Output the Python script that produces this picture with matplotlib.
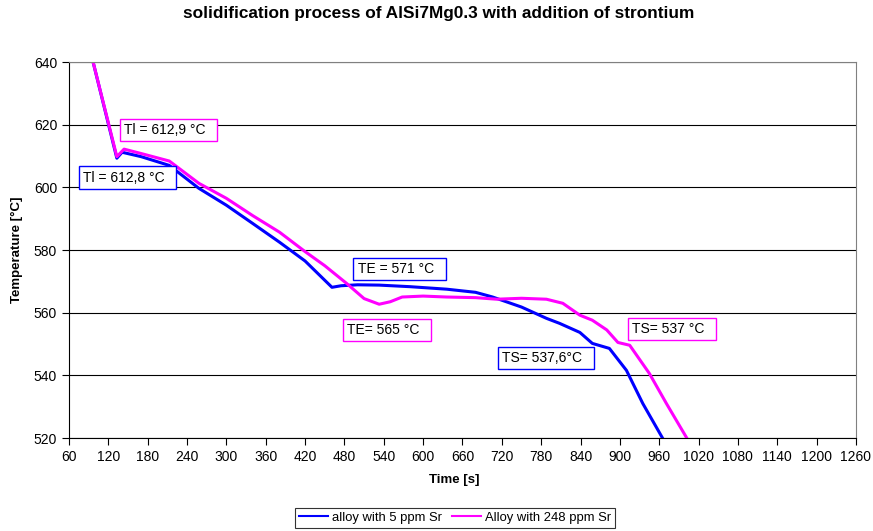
import matplotlib.pyplot as plt

plt.rcParams['font.family'] = ['Liberation Sans', 'DejaVu Sans']

# cooling curves, time [s] / temperature [°C]
t_5 = [95, 133, 141, 170, 213, 258, 300, 340, 381, 420, 461, 475, 500, 533,
       580, 636, 680, 706, 750, 788, 808, 839, 858, 884, 910, 935, 965]
T_5 = [641.5, 609.3, 611.2, 609.8, 607.0, 599.7, 594.3, 588.5, 582.5, 576.5,
       568.1, 568.6, 568.9, 568.8, 568.3, 567.5, 566.5, 565.0, 561.8, 558.2,
       556.6, 553.7, 550.2, 548.6, 541.6, 531.0, 520.0]

t_248 = [95, 133, 144, 170, 213, 258, 300, 340, 381, 420, 450, 483, 510, 533,
         550, 568, 600, 636, 680, 712, 750, 788, 813, 839, 858, 880, 897,
         915, 945, 971, 1002]
T_248 = [641.5, 609.8, 612.2, 610.8, 608.4, 601.3, 596.5, 591.0, 585.7, 579.5,
         575.0, 569.4, 564.5, 562.7, 563.5, 565.0, 565.3, 565.0, 564.8, 564.3,
         564.6, 564.3, 563.0, 559.2, 557.6, 554.5, 550.5, 549.6, 540.6, 531.0,
         520.0]

# annotation boxes: text, left time, centre temperature, edge colour
notes = [
    ('Tl = 612,9 °C', 144, 618.3, '#ff00ff'),
    ('Tl = 612,8 °C', 81, 603.1, '#0000ff'),
    ('TE = 571 °C', 500, 574.0, '#0000ff'),
    ('TE= 565 °C', 484, 554.4, '#ff00ff'),
    ('TS= 537,6°C', 721, 545.6, '#0000ff'),
    ('TS= 537 °C', 918, 554.7, '#ff00ff'),
]

fig = plt.figure(figsize=(8.73, 5.31), dpi=100)
ax = fig.add_axes([0.079, 0.1751, 0.9015, 0.7081])

ax.plot(t_5, T_5, color='#0000ff', lw=2.2, label='alloy with 5 ppm Sr')
ax.plot(t_248, T_248, color='#ff00ff', lw=2.2, label='Alloy with 248 ppm Sr')

ax.set_xlim(60, 1260)
ax.set_ylim(520, 640)
ax.set_xticks(range(60, 1261, 60))
ax.set_yticks(range(520, 641, 20))
ax.tick_params(labelsize=10, direction='out', length=5, width=0.8)
ax.grid(axis='y', color='black', lw=0.8)
ax.set_axisbelow(True)
for s in ('top', 'right'):
    ax.spines[s].set_color('#808080')
for s in ('left', 'bottom'):
    ax.spines[s].set_color('black')

for txt, x, y, col in notes:
    ax.text(x, y, txt + '  ', fontsize=10, va='center', ha='left',
            bbox=dict(boxstyle='square,pad=0.3', fc='white', ec=col, lw=1))

ax.set_xlabel('Time [s]', fontsize=9.5, fontweight='bold', labelpad=10)
ax.xaxis.set_label_coords(0.49, -0.095)
ax.set_ylabel('Temperature [°C]', fontsize=9.5, fontweight='bold', labelpad=8)
fig.suptitle('solidification process of AlSi7Mg0.3 with addition of strontium',
             fontsize=12.4, fontweight='bold', x=0.502, y=0.988)

leg = fig.legend(loc='lower center', bbox_to_anchor=(0.521, -0.006), ncol=2,
                 fontsize=9.4, frameon=True, fancybox=False, handlelength=2.2,
                 handletextpad=0.3, columnspacing=0.8, borderpad=0.3)
leg.get_frame().set_edgecolor('black')
leg.get_frame().set_linewidth(0.8)
for h in leg.legend_handles:
    h.set_linewidth(1.5)

fig.savefig('out.png', dpi=100)
